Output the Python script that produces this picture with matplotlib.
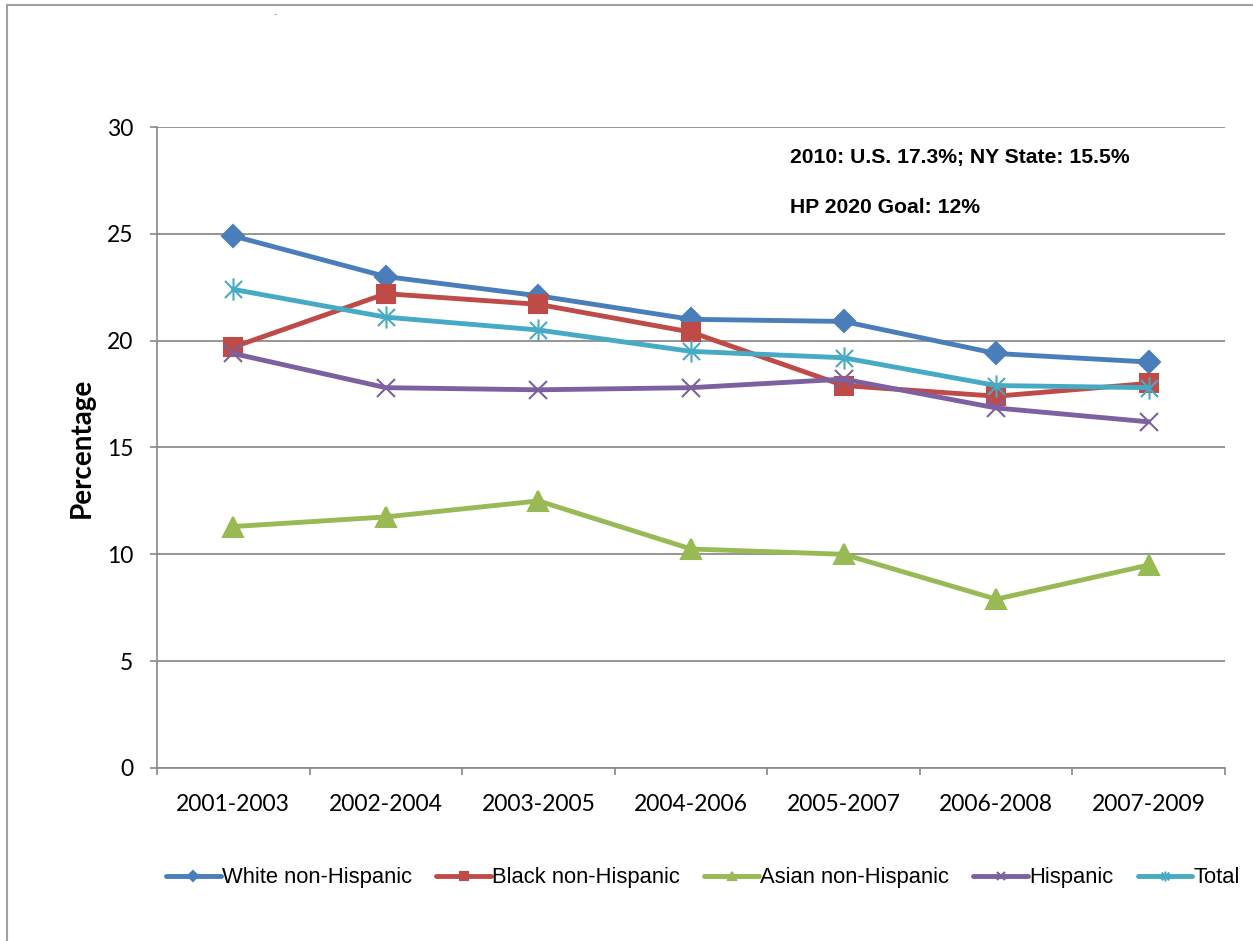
import numpy as np
import matplotlib.pyplot as plt
from matplotlib.path import Path
from matplotlib.lines import Line2D

# datos
periodos = ['2001-2003', '2002-2004', '2003-2005', '2004-2006', '2005-2007', '2006-2008', '2007-2009']
white = [24.9, 23.0, 22.1, 21.0, 20.9, 19.4, 19.0]
black = [19.7, 22.2, 21.7, 20.4, 17.9, 17.4, 18.0]
asian = [11.3, 11.75, 12.5, 10.25, 10.0, 7.9, 9.5]
hispanic = [19.4, 17.8, 17.7, 17.8, 18.2, 16.85, 16.2]
total = [22.4, 21.1, 20.5, 19.5, 19.2, 17.9, 17.8]
nota1 = '2010: U.S. 17.3%; NY State: 15.5%'
nota2 = 'HP 2020 Goal: 12%'

# marcador tipo asterisco (x + linea vertical)
asterisco = Path([(-1, -1), (1, 1), (-1, 1), (1, -1), (0, -1.3), (0, 1.3)],
                 [Path.MOVETO, Path.LINETO, Path.MOVETO, Path.LINETO, Path.MOVETO, Path.LINETO])

series = [
    ('White non-Hispanic', white, '#4A7EBB', 'D', 11.5),
    ('Black non-Hispanic', black, '#BE4B48', 's', 13),
    ('Asian non-Hispanic', asian, '#98B954', '^', 14),
    ('Hispanic', hispanic, '#7D60A0', 'x', 13),
    ('Total', total, '#46AAC5', asterisco, 16),
]

fig = plt.figure(figsize=(12.53, 9.41), dpi=100)
ax = fig.add_axes([0.1253, 0.1839, 0.8524, 0.6811])

x = np.arange(len(periodos))
for nombre, valores, color, marca, tam in series:
    ax.plot(x, valores, color=color, lw=3.5, marker=marca, markersize=tam,
            markeredgecolor=color, markerfacecolor=color, markeredgewidth=1.5,
            label=nombre, solid_capstyle='round')

ax.set_xlim(-0.5, len(periodos) - 0.5)
ax.set_ylim(0, 30)
ax.set_yticks(range(0, 31, 5))
ax.set_xticks(x)
ax.set_xticklabels(periodos, fontsize=16.5, family='Lato')
ax.set_xticks(np.arange(-0.5, len(periodos), 1), minor=True)
ax.tick_params(axis='x', which='major', length=0, pad=19)
ax.tick_params(axis='x', which='minor', length=5, color='#888888', width=1.2, direction='out')
ax.tick_params(axis='y', length=5, color='#888888', width=1.2, labelsize=16.5, pad=12)
for t in ax.get_yticklabels():
    t.set_family('Lato')

ax.yaxis.grid(True, color='#8c8c8c', lw=1.3)
ax.set_axisbelow(True)
for lado in ['top', 'right']:
    ax.spines[lado].set_visible(False)
ax.spines['left'].set_color('#888888')
ax.spines['bottom'].set_color('#888888')
ax.spines['left'].set_linewidth(1.2)
ax.spines['bottom'].set_linewidth(1.2)

ax.set_ylabel('Percentage', fontsize=20, fontweight='bold', family='Lato', labelpad=9)

ax.text(0.593, 0.952, nota1, transform=ax.transAxes, fontsize=15.2, fontweight='bold',
        family='Liberation Sans', va='center')
ax.text(0.593, 0.874, nota2, transform=ax.transAxes, fontsize=15.2, fontweight='bold',
        family='Liberation Sans', va='center')

ley = fig.legend(loc='center', bbox_to_anchor=(0.561, 0.067), ncol=5, frameon=False,
                 prop={'family': 'Liberation Sans', 'size': 15.8}, markerscale=0.45,
                 handlelength=2.5, handletextpad=0.05, columnspacing=1.1)

# marco exterior del grafico
fig.add_artist(Line2D([7 / 1253, 7 / 1253], [0, 1 - 5 / 941], transform=fig.transFigure,
                      color='#a0a0a0', lw=1.5))
fig.add_artist(Line2D([7 / 1253, 1], [1 - 5 / 941, 1 - 5 / 941], transform=fig.transFigure,
                      color='#a0a0a0', lw=1.5))
fig.text(275 / 1253, 1 - 15 / 941, '-', fontsize=6, color='#808080', ha='center', va='center')

fig.savefig('out.png', dpi=100)
